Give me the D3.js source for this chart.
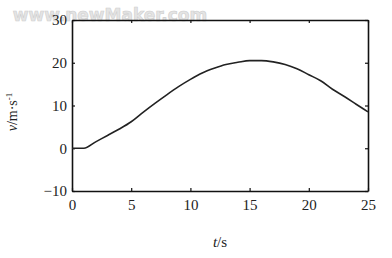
<!DOCTYPE html>
<html><head><meta charset="utf-8">
<script src="https://cdn.jsdelivr.net/npm/d3@7"></script>
<style>body{margin:0;background:#fff}svg{display:block}</style>
</head><body>
<script>
const tValues = [0,1,2,3,4,5,6,7,8,9,10,11,12,13,14,15,16,17,18,19,20,21,22,23,24,25];
const vValues = [0,0,1.5,3.0,4.5,6.2,8.4,10.5,12.5,14.4,16.1,17.6,18.7,19.6,20.1,20.5,20.5,20.2,19.6,18.6,17.2,15.8,13.8,12.1,10.3,8.5];
const xTicks = [0,5,10,15,20,25];
const yTicks = [-10,0,10,20,30];

const W=392,H=258;
const m={l:72,r:24,t:20,b:67};
const svg=d3.select("body").append("svg").attr("width",W).attr("height",H);
const x=d3.scaleLinear().domain([0,25]).range([m.l,W-m.r]);
const y=d3.scaleLinear().domain([-10,30]).range([H-m.b,m.t]);
const font="'Liberation Serif','Times New Roman',serif";

// watermark
svg.append("text").attr("x",110).attr("y",21).attr("text-anchor","middle")
  .attr("font-family","'DejaVu Sans',sans-serif").attr("font-weight","bold").attr("font-size",17)
  .attr("fill","#e4e4e4").attr("stroke","#cfcfcf").attr("stroke-width",0.6).text("www.newMaker.com");

const g=svg.append("g");
const xAx=g.append("g").attr("transform",`translate(0,${y(-10)})`)
  .call(d3.axisBottom(x).tickValues(xTicks).tickSizeInner(-3).tickSizeOuter(0).tickPadding(8));
const yAx=g.append("g").attr("transform",`translate(${x(0)},0)`)
  .call(d3.axisLeft(y).tickValues(yTicks).tickSizeInner(-3).tickSizeOuter(0).tickPadding(5));
g.append("g").attr("transform",`translate(0,${y(30)})`)
  .call(d3.axisTop(x).tickValues(xTicks).tickSizeInner(-3).tickSizeOuter(0).tickFormat(""));
g.append("g").attr("transform",`translate(${x(25)},0)`)
  .call(d3.axisRight(y).tickValues(yTicks).tickSizeInner(-3).tickSizeOuter(0).tickFormat(""));
g.selectAll(".domain").attr("stroke","#111").attr("stroke-width",1.6);
g.selectAll(".tick line").attr("stroke","#111").attr("stroke-width",1.2);
g.selectAll(".tick text").attr("font-family",font).attr("font-size",15).attr("fill","#222");

svg.append("path").datum(tValues.map((t,i)=>[t,vValues[i]]))
  .attr("fill","none").attr("stroke","#222").attr("stroke-width",1.6)
  .attr("d",d3.line().x(d=>x(d[0])).y(d=>y(d[1])).curve(d3.curveMonotoneX));

// axis labels
const xl=svg.append("text").attr("x",220).attr("y",247).attr("text-anchor","middle")
  .attr("font-family",font).attr("font-size",15).attr("fill","#222");
xl.append("tspan").attr("font-style","italic").text("t");
xl.append("tspan").text("/s");

const yl=svg.append("text").attr("transform","translate(17,112) rotate(-90)").attr("text-anchor","middle")
  .attr("font-family",font).attr("font-size",14).attr("fill","#222");
yl.append("tspan").attr("font-style","italic").text("v");
yl.append("tspan").text("/m·s");
yl.append("tspan").attr("dy",-5).attr("font-size",9).text("-1");
</script>
</body></html>
